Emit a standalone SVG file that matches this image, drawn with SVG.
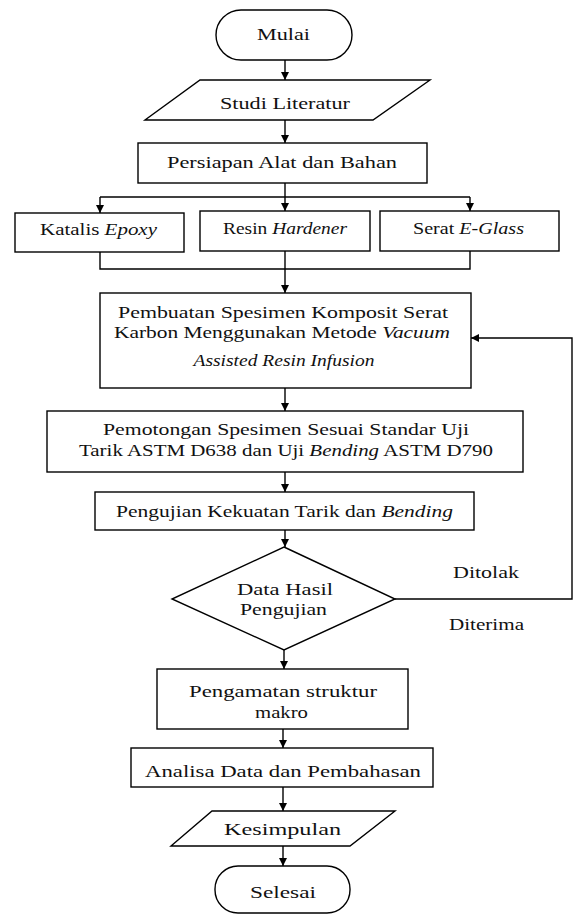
<svg xmlns="http://www.w3.org/2000/svg" width="573" height="915" viewBox="0 0 573 915">
<style>
.s{fill:#fff;stroke:#000;stroke-width:1.4}
.t{font-family:"Liberation Serif","DejaVu Serif",serif;font-size:17px;fill:#111;text-anchor:middle}
.i{font-style:italic}
.c{fill:none;stroke:#000;stroke-width:1.4}
</style>
<defs>
<marker id="ah" markerUnits="userSpaceOnUse" markerWidth="9" markerHeight="9" refX="8" refY="4" orient="auto">
<path d="M0,0 L8,4 L0,8 z" fill="#000"/>
</marker>
</defs>
<rect width="573" height="915" fill="#fff"/>
<g id="connectors">
<line class="c" x1="285" y1="60" x2="285" y2="80" marker-end="url(#ah)"/>
<line class="c" x1="285" y1="120" x2="285" y2="143" marker-end="url(#ah)"/>
<line class="c" x1="285" y1="183" x2="285" y2="211" marker-end="url(#ah)"/>
<line class="c" x1="100" y1="197" x2="470" y2="197"/>
<line class="c" x1="100" y1="197" x2="100" y2="213" marker-end="url(#ah)"/>
<line class="c" x1="470" y1="197" x2="470" y2="211" marker-end="url(#ah)"/>
<polyline class="c" points="100,252 100,269 470,269 470,251"/>
<line class="c" x1="285" y1="251" x2="285" y2="293" marker-end="url(#ah)"/>
<line class="c" x1="285" y1="388" x2="285" y2="411" marker-end="url(#ah)"/>
<line class="c" x1="285" y1="472" x2="285" y2="492" marker-end="url(#ah)"/>
<line class="c" x1="285" y1="530" x2="285" y2="547" marker-end="url(#ah)"/>
<polyline class="c" points="395,599 572,599 572,338 471,338" marker-end="url(#ah)"/>
<line class="c" x1="284" y1="650" x2="284" y2="669" marker-end="url(#ah)"/>
<line class="c" x1="283" y1="729" x2="283" y2="748" marker-end="url(#ah)"/>
<line class="c" x1="283" y1="787" x2="283" y2="811" marker-end="url(#ah)"/>
<line class="c" x1="283" y1="846" x2="283" y2="866" marker-end="url(#ah)"/>
<text class="t" x="486" y="578" textLength="66" lengthAdjust="spacingAndGlyphs">Ditolak</text>
<text class="t" x="486.5" y="630" textLength="75" lengthAdjust="spacingAndGlyphs">Diterima</text>
</g>
<g id="mulai">
<rect class="s" x="216" y="10" width="136" height="50" rx="25"/>
<text class="t" x="283.5" y="40" textLength="53" lengthAdjust="spacingAndGlyphs">Mulai</text>
</g>
<g id="studi">
<polygon class="s" points="200,80 430,80 373,120 145,120"/>
<text class="t" x="285" y="109" textLength="130" lengthAdjust="spacingAndGlyphs">Studi Literatur</text>
</g>
<g id="persiapan">
<rect class="s" x="138" y="143" width="289" height="40"/>
<text class="t" x="282" y="168" textLength="230" lengthAdjust="spacingAndGlyphs">Persiapan Alat dan Bahan</text>
</g>
<g id="katalis">
<rect class="s" x="15" y="213" width="169" height="39"/>
<text class="t" x="98.5" y="235" textLength="117" lengthAdjust="spacingAndGlyphs">Katalis <tspan class="i">Epoxy</tspan></text>
</g>
<g id="resin">
<rect class="s" x="200" y="211" width="170" height="40"/>
<text class="t" x="285" y="234" textLength="124" lengthAdjust="spacingAndGlyphs">Resin <tspan class="i">Hardener</tspan></text>
</g>
<g id="serat">
<rect class="s" x="380" y="211" width="179" height="40"/>
<text class="t" x="468.5" y="234" textLength="111" lengthAdjust="spacingAndGlyphs">Serat <tspan class="i">E-Glass</tspan></text>
</g>
<g id="pembuatan">
<rect class="s" x="100" y="293" width="371" height="95"/>
<text class="t" x="283" y="318" textLength="330" lengthAdjust="spacingAndGlyphs">Pembuatan Spesimen Komposit Serat</text>
<text class="t" x="282" y="338" textLength="336" lengthAdjust="spacingAndGlyphs">Karbon Menggunakan Metode <tspan class="i">Vacuum</tspan></text>
<text class="t i" x="284" y="366" textLength="181" lengthAdjust="spacingAndGlyphs">Assisted Resin Infusion</text>
</g>
<g id="pemotongan">
<rect class="s" x="47" y="411" width="476" height="61"/>
<text class="t" x="286" y="435" textLength="366" lengthAdjust="spacingAndGlyphs">Pemotongan Spesimen Sesuai Standar Uji</text>
<text class="t" x="286" y="456" textLength="414" lengthAdjust="spacingAndGlyphs">Tarik ASTM D638 dan Uji <tspan class="i">Bending</tspan> ASTM D790</text>
</g>
<g id="pengujian">
<rect class="s" x="95" y="492" width="379" height="38"/>
<text class="t" x="284.5" y="517" textLength="337" lengthAdjust="spacingAndGlyphs">Pengujian Kekuatan Tarik dan <tspan class="i">Bending</tspan></text>
</g>
<g id="data">
<polygon class="s" points="284,547 395,599 284,650 172,599"/>
<text class="t" x="285" y="595" textLength="96" lengthAdjust="spacingAndGlyphs">Data Hasil</text>
<text class="t" x="283.5" y="615" textLength="87" lengthAdjust="spacingAndGlyphs">Pengujian</text>
</g>
<g id="pengamatan">
<rect class="s" x="157" y="669" width="251" height="60"/>
<text class="t" x="283" y="697" textLength="188" lengthAdjust="spacingAndGlyphs">Pengamatan struktur</text>
<text class="t" x="281.5" y="718" textLength="53" lengthAdjust="spacingAndGlyphs">makro</text>
</g>
<g id="analisa">
<rect class="s" x="131" y="748" width="302" height="39"/>
<text class="t" x="283" y="777" textLength="276" lengthAdjust="spacingAndGlyphs">Analisa Data dan Pembahasan</text>
</g>
<g id="kesimpulan">
<polygon class="s" points="212,811 395,811 350,846 171,846"/>
<text class="t" x="282.5" y="835" textLength="117" lengthAdjust="spacingAndGlyphs">Kesimpulan</text>
</g>
<g id="selesai">
<rect class="s" x="215" y="866" width="135" height="47" rx="23"/>
<text class="t" x="283" y="898" textLength="66" lengthAdjust="spacingAndGlyphs">Selesai</text>
</g>
</svg>
